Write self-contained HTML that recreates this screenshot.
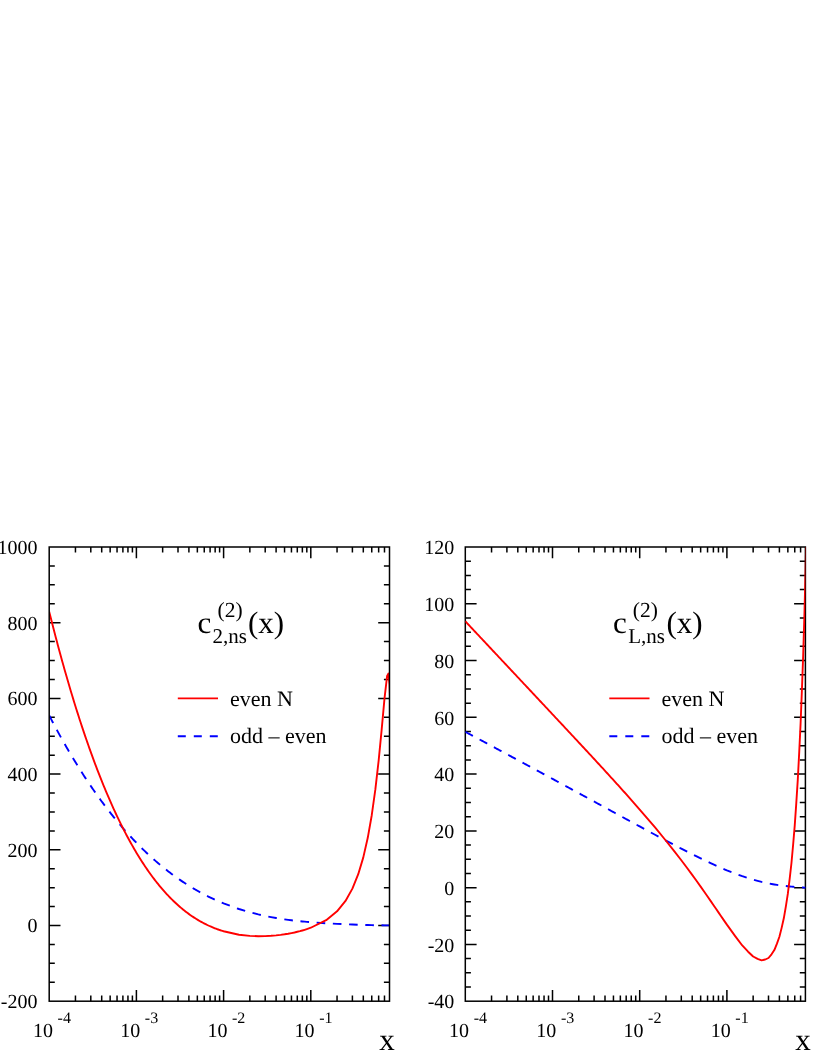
<!DOCTYPE html>
<html><head><meta charset="utf-8"><title>c2ns / cLns two-loop coefficient functions</title>
<style>html,body{margin:0;padding:0;background:#fff}body{width:817px;height:1058px;overflow:hidden;font-family:"Liberation Serif",serif}</style>
</head><body>
<svg width="817" height="1058" viewBox="0 0 817 1058" style="display:block;will-change:transform">
<rect width="817" height="1058" fill="#fff"/>
<path d="M75.45,1001.2v-5.6M75.45,547.0v5.6M90.80,1001.2v-5.6M90.80,547.0v5.6M101.70,1001.2v-5.6M101.70,547.0v5.6M110.15,1001.2v-5.6M110.15,547.0v5.6M117.05,1001.2v-5.6M117.05,547.0v5.6M122.89,1001.2v-5.6M122.89,547.0v5.6M127.95,1001.2v-5.6M127.95,547.0v5.6M132.41,1001.2v-5.6M132.41,547.0v5.6M136.40,1001.2v-11.3M136.40,547.0v11.3M162.65,1001.2v-5.6M162.65,547.0v5.6M178.00,1001.2v-5.6M178.00,547.0v5.6M188.90,1001.2v-5.6M188.90,547.0v5.6M197.35,1001.2v-5.6M197.35,547.0v5.6M204.25,1001.2v-5.6M204.25,547.0v5.6M210.09,1001.2v-5.6M210.09,547.0v5.6M215.15,1001.2v-5.6M215.15,547.0v5.6M219.61,1001.2v-5.6M219.61,547.0v5.6M223.60,1001.2v-11.3M223.60,547.0v11.3M249.85,1001.2v-5.6M249.85,547.0v5.6M265.20,1001.2v-5.6M265.20,547.0v5.6M276.10,1001.2v-5.6M276.10,547.0v5.6M284.55,1001.2v-5.6M284.55,547.0v5.6M291.45,1001.2v-5.6M291.45,547.0v5.6M297.29,1001.2v-5.6M297.29,547.0v5.6M302.35,1001.2v-5.6M302.35,547.0v5.6M306.81,1001.2v-5.6M306.81,547.0v5.6M310.80,1001.2v-11.3M310.80,547.0v11.3M337.05,1001.2v-5.6M337.05,547.0v5.6M352.40,1001.2v-5.6M352.40,547.0v5.6M363.30,1001.2v-5.6M363.30,547.0v5.6M371.75,1001.2v-5.6M371.75,547.0v5.6M378.65,1001.2v-5.6M378.65,547.0v5.6M384.49,1001.2v-5.6M384.49,547.0v5.6M49.2,982.28h5.6M389.5,982.28h-5.6M49.2,963.35h5.6M389.5,963.35h-5.6M49.2,944.43h5.6M389.5,944.43h-5.6M49.2,925.50h11.3M389.5,925.50h-11.3M49.2,906.58h5.6M389.5,906.58h-5.6M49.2,887.65h5.6M389.5,887.65h-5.6M49.2,868.73h5.6M389.5,868.73h-5.6M49.2,849.80h11.3M389.5,849.80h-11.3M49.2,830.88h5.6M389.5,830.88h-5.6M49.2,811.95h5.6M389.5,811.95h-5.6M49.2,793.02h5.6M389.5,793.02h-5.6M49.2,774.10h11.3M389.5,774.10h-11.3M49.2,755.17h5.6M389.5,755.17h-5.6M49.2,736.25h5.6M389.5,736.25h-5.6M49.2,717.33h5.6M389.5,717.33h-5.6M49.2,698.40h11.3M389.5,698.40h-11.3M49.2,679.48h5.6M389.5,679.48h-5.6M49.2,660.55h5.6M389.5,660.55h-5.6M49.2,641.62h5.6M389.5,641.62h-5.6M49.2,622.70h11.3M389.5,622.70h-11.3M49.2,603.77h5.6M389.5,603.77h-5.6M49.2,584.85h5.6M389.5,584.85h-5.6M49.2,565.92h5.6M389.5,565.92h-5.6" stroke="#000" stroke-width="1.5" fill="none"/>
<clipPath id="cp0"><rect x="49.2" y="547.0" width="340.30" height="454.20"/></clipPath>
<polyline clip-path="url(#cp0)" points="49.20,715.43 50.29,717.53 51.38,719.62 52.47,721.70 53.56,723.76 54.65,725.81 55.74,727.84 56.83,729.86 57.92,731.87 59.01,733.86 60.10,735.84 61.19,737.80 62.28,739.75 63.37,741.69 64.46,743.61 65.55,745.52 66.64,747.41 67.73,749.30 68.82,751.16 69.91,753.02 71.00,754.86 72.09,756.69 73.18,758.51 74.27,760.31 75.36,762.10 76.45,763.87 77.54,765.63 78.63,767.38 79.72,769.12 80.81,770.85 81.90,772.56 82.99,774.25 84.08,775.94 85.17,777.61 86.26,779.27 87.35,780.92 88.44,782.55 89.53,784.18 90.62,785.79 91.71,787.38 92.80,788.97 93.89,790.54 94.98,792.10 96.07,793.65 97.16,795.18 98.25,796.71 99.34,798.22 100.43,799.72 101.52,801.21 102.61,802.68 103.70,804.15 104.79,805.60 105.88,807.04 106.97,808.47 108.06,809.88 109.15,811.29 110.24,812.68 111.33,814.06 112.42,815.43 113.51,816.79 114.60,818.14 115.69,819.48 116.78,820.80 117.87,822.11 118.96,823.42 120.05,824.71 121.14,825.99 122.23,827.26 123.32,828.51 124.41,829.76 125.50,831.00 126.59,832.22 127.68,833.43 128.77,834.64 129.86,835.83 130.95,837.01 132.04,838.18 133.13,839.34 134.22,840.49 135.31,841.63 136.40,842.76 137.49,843.88 138.58,844.99 139.67,846.09 140.76,847.17 141.85,848.25 142.94,849.32 144.03,850.38 145.12,851.42 146.21,852.46 147.30,853.49 148.39,854.50 149.48,855.51 150.57,856.51 151.66,857.50 152.75,858.47 153.84,859.44 154.93,860.40 156.02,861.35 157.11,862.29 158.20,863.22 159.29,864.14 160.38,865.05 161.47,865.95 162.56,866.84 163.65,867.73 164.74,868.60 165.83,869.47 166.92,870.32 168.01,871.17 169.10,872.00 170.19,872.83 171.28,873.65 172.37,874.46 173.46,875.26 174.55,876.06 175.64,876.84 176.73,877.62 177.82,878.38 178.91,879.14 180.00,879.89 181.09,880.63 182.18,881.37 183.27,882.09 184.36,882.81 185.45,883.51 186.54,884.21 187.63,884.90 188.72,885.59 189.81,886.26 190.90,886.93 191.99,887.59 193.08,888.24 194.17,888.88 195.26,889.51 196.35,890.14 197.44,890.76 198.53,891.37 199.62,891.98 200.71,892.57 201.80,893.16 202.89,893.74 203.98,894.31 205.07,894.88 206.16,895.44 207.25,895.99 208.34,896.53 209.43,897.07 210.52,897.60 211.61,898.12 212.70,898.64 213.79,899.14 214.88,899.65 215.97,900.14 217.06,900.63 218.15,901.11 219.24,901.58 220.33,902.05 221.42,902.51 222.51,902.96 223.60,903.40 238.96,909.01 249.85,912.28 258.30,914.43 265.20,915.97 271.04,917.13 276.10,918.03 280.56,918.76 284.55,919.35 288.16,919.85 291.45,920.27 294.49,920.63 297.29,920.94 299.91,921.21 302.35,921.45 304.65,921.67 306.81,921.86 308.86,922.04 310.80,922.20 326.16,923.24 337.05,923.83 345.50,924.22 352.40,924.51 358.24,924.74 363.30,924.92 367.76,925.06 371.75,925.17 375.36,925.25 378.65,925.30 381.69,925.32 384.49,925.34 387.11,925.35 388.35,925.35 389.55,925.36 390.71,925.38" fill="none" stroke="#0000ff" stroke-width="1.9" stroke-dasharray="8.62 7.62" stroke-linejoin="round"/>
<polyline clip-path="url(#cp0)" points="49.20,611.64 50.29,615.99 51.38,620.31 52.47,624.59 53.56,628.83 54.65,633.03 55.74,637.20 56.83,641.33 57.92,645.42 59.01,649.47 60.10,653.49 61.19,657.47 62.28,661.42 63.37,665.33 64.46,669.20 65.55,673.03 66.64,676.83 67.73,680.60 68.82,684.33 69.91,688.02 71.00,691.68 72.09,695.30 73.18,698.89 74.27,702.44 75.36,705.96 76.45,709.44 77.54,712.89 78.63,716.31 79.72,719.69 80.81,723.04 81.90,726.35 82.99,729.63 84.08,732.88 85.17,736.09 86.26,739.27 87.35,742.42 88.44,745.54 89.53,748.62 90.62,751.67 91.71,754.69 92.80,757.67 93.89,760.63 94.98,763.55 96.07,766.44 97.16,769.30 98.25,772.13 99.34,774.92 100.43,777.69 101.52,780.42 102.61,783.13 103.70,785.80 104.79,788.45 105.88,791.06 106.97,793.64 108.06,796.20 109.15,798.72 110.24,801.21 111.33,803.68 112.42,806.11 113.51,808.52 114.60,810.90 115.69,813.25 116.78,815.57 117.87,817.86 118.96,820.12 120.05,822.36 121.14,824.57 122.23,826.75 123.32,828.90 124.41,831.03 125.50,833.12 126.59,835.19 127.68,837.24 128.77,839.26 129.86,841.25 130.95,843.21 132.04,845.15 133.13,847.06 134.22,848.95 135.31,850.81 136.40,852.64 137.49,854.45 138.58,856.23 139.67,857.99 140.76,859.73 141.85,861.44 142.94,863.12 144.03,864.78 145.12,866.42 146.21,868.03 147.30,869.62 148.39,871.18 149.48,872.72 150.57,874.24 151.66,875.73 152.75,877.20 153.84,878.65 154.93,880.07 156.02,881.47 157.11,882.85 158.20,884.21 159.29,885.55 160.38,886.86 161.47,888.15 162.56,889.42 163.65,890.67 164.74,891.90 165.83,893.10 166.92,894.29 168.01,895.45 169.10,896.60 170.19,897.72 171.28,898.83 172.37,899.91 173.46,900.97 174.55,902.02 175.64,903.04 176.73,904.04 177.82,905.03 178.91,906.00 180.00,906.94 181.09,907.87 182.18,908.78 183.27,909.67 184.36,910.55 185.45,911.40 186.54,912.24 187.63,913.06 188.72,913.86 189.81,914.65 190.90,915.42 191.99,916.17 193.08,916.90 194.17,917.62 195.26,918.32 196.35,919.00 197.44,919.67 198.53,920.32 199.62,920.96 200.71,921.58 201.80,922.18 202.89,922.77 203.98,923.35 205.07,923.91 206.16,924.45 207.25,924.98 208.34,925.50 209.43,926.00 210.52,926.49 211.61,926.96 212.70,927.42 213.79,927.86 214.88,928.29 215.97,928.71 217.06,929.12 218.15,929.51 219.24,929.89 220.33,930.25 221.42,930.61 222.51,930.95 223.60,931.28 238.96,934.70 249.85,935.90 258.30,936.22 265.20,936.12 271.04,935.81 276.10,935.37 280.56,934.85 284.55,934.29 288.16,933.70 291.45,933.08 294.49,932.45 297.29,931.80 299.91,931.15 302.35,930.48 304.65,929.80 306.81,929.12 308.86,928.43 310.80,927.73 326.16,920.16 337.05,911.34 345.50,900.93 352.40,888.65 358.24,874.23 363.30,857.38 367.76,837.80 371.75,815.21 375.36,789.44 378.65,760.56 381.69,729.39 384.49,698.60 387.11,675.92 388.35,673.58 389.55,684.36 390.71,719.48" fill="none" stroke="#ff0000" stroke-width="1.9" stroke-linejoin="round"/>
<rect x="49.2" y="547.0" width="340.30" height="454.20" fill="none" stroke="#000" stroke-width="1.5"/>
<g font-family="Liberation Serif, serif" fill="#000" text-rendering="geometricPrecision">
<text x="37.50" y="1008.15" font-size="20.0" text-anchor="end">-200</text>
<text x="37.50" y="932.45" font-size="20.0" text-anchor="end">0</text>
<text x="37.50" y="856.75" font-size="20.0" text-anchor="end">200</text>
<text x="37.50" y="781.05" font-size="20.0" text-anchor="end">400</text>
<text x="37.50" y="705.35" font-size="20.0" text-anchor="end">600</text>
<text x="37.50" y="629.65" font-size="20.0" text-anchor="end">800</text>
<text x="37.50" y="553.95" font-size="20.0" text-anchor="end">1000</text>
<text x="33.00" y="1036.7" font-size="20.0">10</text>
<text x="57.60" y="1022.8" font-size="16.0">-4</text>
<text x="120.20" y="1036.7" font-size="20.0">10</text>
<text x="144.80" y="1022.8" font-size="16.0">-3</text>
<text x="207.40" y="1036.7" font-size="20.0">10</text>
<text x="232.00" y="1022.8" font-size="16.0">-2</text>
<text x="294.60" y="1036.7" font-size="20.0">10</text>
<text x="319.20" y="1022.8" font-size="16.0">-1</text>
<text x="379.35" y="1050" font-size="31.0">x</text>
<text x="197.60" y="633.0" font-size="31.0">c</text>
<text x="217.60" y="617.1" font-size="21.5">(2)</text>
<text x="212.60" y="643.0" font-size="21.0">2,ns</text>
<text x="248.00" y="633.0" font-size="31.0">(x)</text>
<text x="229.90" y="705.9" font-size="22.0">even N</text>
<text x="229.90" y="743.3" font-size="22.0">odd – even</text>
</g>
<path d="M177.80,698.4h40.2" stroke="#ff0000" stroke-width="1.9"/>
<path d="M177.80,736.3h40.2" stroke="#0000ff" stroke-width="1.9" stroke-dasharray="8 8"/>
<path d="M491.55,1001.2v-5.6M491.55,547.0v5.6M506.90,1001.2v-5.6M506.90,547.0v5.6M517.80,1001.2v-5.6M517.80,547.0v5.6M526.25,1001.2v-5.6M526.25,547.0v5.6M533.15,1001.2v-5.6M533.15,547.0v5.6M538.99,1001.2v-5.6M538.99,547.0v5.6M544.05,1001.2v-5.6M544.05,547.0v5.6M548.51,1001.2v-5.6M548.51,547.0v5.6M552.50,1001.2v-11.3M552.50,547.0v11.3M578.75,1001.2v-5.6M578.75,547.0v5.6M594.10,1001.2v-5.6M594.10,547.0v5.6M605.00,1001.2v-5.6M605.00,547.0v5.6M613.45,1001.2v-5.6M613.45,547.0v5.6M620.35,1001.2v-5.6M620.35,547.0v5.6M626.19,1001.2v-5.6M626.19,547.0v5.6M631.25,1001.2v-5.6M631.25,547.0v5.6M635.71,1001.2v-5.6M635.71,547.0v5.6M639.70,1001.2v-11.3M639.70,547.0v11.3M665.95,1001.2v-5.6M665.95,547.0v5.6M681.30,1001.2v-5.6M681.30,547.0v5.6M692.20,1001.2v-5.6M692.20,547.0v5.6M700.65,1001.2v-5.6M700.65,547.0v5.6M707.55,1001.2v-5.6M707.55,547.0v5.6M713.39,1001.2v-5.6M713.39,547.0v5.6M718.45,1001.2v-5.6M718.45,547.0v5.6M722.91,1001.2v-5.6M722.91,547.0v5.6M726.90,1001.2v-11.3M726.90,547.0v11.3M753.15,1001.2v-5.6M753.15,547.0v5.6M768.50,1001.2v-5.6M768.50,547.0v5.6M779.40,1001.2v-5.6M779.40,547.0v5.6M787.85,1001.2v-5.6M787.85,547.0v5.6M794.75,1001.2v-5.6M794.75,547.0v5.6M800.59,1001.2v-5.6M800.59,547.0v5.6M465.3,987.01h5.6M805.4,987.01h-5.6M465.3,972.81h5.6M805.4,972.81h-5.6M465.3,958.62h5.6M805.4,958.62h-5.6M465.3,944.43h11.3M805.4,944.43h-11.3M465.3,930.23h5.6M805.4,930.23h-5.6M465.3,916.04h5.6M805.4,916.04h-5.6M465.3,901.84h5.6M805.4,901.84h-5.6M465.3,887.65h11.3M805.4,887.65h-11.3M465.3,873.46h5.6M805.4,873.46h-5.6M465.3,859.26h5.6M805.4,859.26h-5.6M465.3,845.07h5.6M805.4,845.07h-5.6M465.3,830.88h11.3M805.4,830.88h-11.3M465.3,816.68h5.6M805.4,816.68h-5.6M465.3,802.49h5.6M805.4,802.49h-5.6M465.3,788.29h5.6M805.4,788.29h-5.6M465.3,774.10h11.3M805.4,774.10h-11.3M465.3,759.91h5.6M805.4,759.91h-5.6M465.3,745.71h5.6M805.4,745.71h-5.6M465.3,731.52h5.6M805.4,731.52h-5.6M465.3,717.33h11.3M805.4,717.33h-11.3M465.3,703.13h5.6M805.4,703.13h-5.6M465.3,688.94h5.6M805.4,688.94h-5.6M465.3,674.74h5.6M805.4,674.74h-5.6M465.3,660.55h11.3M805.4,660.55h-11.3M465.3,646.36h5.6M805.4,646.36h-5.6M465.3,632.16h5.6M805.4,632.16h-5.6M465.3,617.97h5.6M805.4,617.97h-5.6M465.3,603.77h11.3M805.4,603.77h-11.3M465.3,589.58h5.6M805.4,589.58h-5.6M465.3,575.39h5.6M805.4,575.39h-5.6M465.3,561.19h5.6M805.4,561.19h-5.6" stroke="#000" stroke-width="1.5" fill="none"/>
<clipPath id="cp1"><rect x="465.3" y="547.0" width="340.10" height="454.20"/></clipPath>
<rect x="465.3" y="547.0" width="340.10" height="454.20" fill="none" stroke="#000" stroke-width="1.5"/>
<polyline clip-path="url(#cp1)" points="465.30,731.83 466.39,732.41 467.48,733.00 468.57,733.58 469.66,734.17 470.75,734.75 471.84,735.34 472.93,735.92 474.02,736.51 475.11,737.09 476.20,737.68 477.29,738.26 478.38,738.85 479.47,739.43 480.56,740.02 481.65,740.60 482.74,741.19 483.83,741.77 484.92,742.36 486.01,742.95 487.10,743.53 488.19,744.12 489.28,744.70 490.37,745.29 491.46,745.88 492.55,746.46 493.64,747.05 494.73,747.64 495.82,748.22 496.91,748.81 498.00,749.40 499.09,749.98 500.18,750.57 501.27,751.16 502.36,751.75 503.45,752.33 504.54,752.92 505.63,753.51 506.72,754.10 507.81,754.68 508.90,755.27 509.99,755.86 511.08,756.45 512.17,757.04 513.26,757.62 514.35,758.21 515.44,758.80 516.53,759.39 517.62,759.98 518.71,760.57 519.80,761.16 520.89,761.74 521.98,762.33 523.07,762.92 524.16,763.51 525.25,764.10 526.34,764.69 527.43,765.28 528.52,765.87 529.61,766.46 530.70,767.05 531.79,767.64 532.88,768.23 533.97,768.82 535.06,769.41 536.15,770.00 537.24,770.59 538.33,771.18 539.42,771.77 540.51,772.36 541.60,772.95 542.69,773.55 543.78,774.14 544.87,774.73 545.96,775.32 547.05,775.91 548.14,776.50 549.23,777.09 550.32,777.69 551.41,778.28 552.50,778.87 553.59,779.46 554.68,780.05 555.77,780.65 556.86,781.24 557.95,781.83 559.04,782.42 560.13,783.02 561.22,783.61 562.31,784.20 563.40,784.80 564.49,785.39 565.58,785.98 566.67,786.58 567.76,787.17 568.85,787.76 569.94,788.36 571.03,788.95 572.12,789.54 573.21,790.14 574.30,790.73 575.39,791.33 576.48,791.92 577.57,792.52 578.66,793.11 579.75,793.70 580.84,794.30 581.93,794.89 583.02,795.49 584.11,796.08 585.20,796.68 586.29,797.27 587.38,797.87 588.47,798.46 589.56,799.06 590.65,799.65 591.74,800.25 592.83,800.85 593.92,801.44 595.01,802.04 596.10,802.63 597.19,803.23 598.28,803.82 599.37,804.42 600.46,805.02 601.55,805.61 602.64,806.21 603.73,806.80 604.82,807.40 605.91,808.00 607.00,808.59 608.09,809.19 609.18,809.78 610.27,810.38 611.36,810.98 612.45,811.57 613.54,812.17 614.63,812.77 615.72,813.36 616.81,813.96 617.90,814.55 618.99,815.15 620.08,815.74 621.17,816.34 622.26,816.94 623.35,817.53 624.44,818.13 625.53,818.72 626.62,819.32 627.71,819.91 628.80,820.51 629.89,821.10 630.98,821.70 632.07,822.29 633.16,822.89 634.25,823.48 635.34,824.07 636.43,824.67 637.52,825.26 638.61,825.85 639.70,826.45 655.06,834.76 665.95,840.59 674.40,845.06 681.30,848.66 687.14,851.66 692.20,854.22 696.66,856.45 700.65,858.41 704.26,860.15 707.55,861.72 710.59,863.14 713.39,864.43 716.01,865.62 718.45,866.70 720.75,867.71 722.91,868.64 724.96,869.51 726.90,870.32 735.35,873.61 742.26,876.19 748.09,878.09 753.15,879.67 757.61,880.88 761.60,881.92 765.21,882.73 768.50,883.44 771.54,884.00 774.34,884.50 776.96,884.91 779.40,885.26 781.70,885.56 783.86,885.83 785.91,886.05 787.85,886.25 789.70,886.43 791.46,886.59 793.14,886.73 794.75,886.86 796.30,886.98 797.79,887.10 799.22,887.20 800.59,887.31 801.92,887.40 803.21,887.50 804.45,887.58 805.65,887.65 806.81,887.71" fill="none" stroke="#0000ff" stroke-width="1.9" stroke-dasharray="8.62 7.62" stroke-linejoin="round"/>
<polyline clip-path="url(#cp1)" points="465.30,621.27 466.39,622.43 467.48,623.60 468.57,624.76 469.66,625.92 470.75,627.08 471.84,628.24 472.93,629.40 474.02,630.56 475.11,631.73 476.20,632.89 477.29,634.05 478.38,635.21 479.47,636.37 480.56,637.53 481.65,638.70 482.74,639.86 483.83,641.02 484.92,642.18 486.01,643.34 487.10,644.50 488.19,645.67 489.28,646.83 490.37,647.99 491.46,649.15 492.55,650.31 493.64,651.48 494.73,652.64 495.82,653.80 496.91,654.96 498.00,656.13 499.09,657.29 500.18,658.45 501.27,659.61 502.36,660.78 503.45,661.94 504.54,663.10 505.63,664.26 506.72,665.42 507.81,666.59 508.90,667.75 509.99,668.91 511.08,670.07 512.17,671.24 513.26,672.40 514.35,673.56 515.44,674.72 516.53,675.89 517.62,677.05 518.71,678.21 519.80,679.38 520.89,680.54 521.98,681.70 523.07,682.86 524.16,684.03 525.25,685.19 526.34,686.35 527.43,687.52 528.52,688.68 529.61,689.84 530.70,691.01 531.79,692.17 532.88,693.33 533.97,694.50 535.06,695.66 536.15,696.82 537.24,697.99 538.33,699.15 539.42,700.31 540.51,701.48 541.60,702.64 542.69,703.80 543.78,704.97 544.87,706.13 545.96,707.30 547.05,708.46 548.14,709.62 549.23,710.79 550.32,711.95 551.41,713.12 552.50,714.28 553.59,715.45 554.68,716.61 555.77,717.78 556.86,718.94 557.95,720.11 559.04,721.28 560.13,722.44 561.22,723.61 562.31,724.77 563.40,725.94 564.49,727.11 565.58,728.28 566.67,729.44 567.76,730.61 568.85,731.78 569.94,732.95 571.03,734.12 572.12,735.29 573.21,736.45 574.30,737.62 575.39,738.79 576.48,739.97 577.57,741.14 578.66,742.31 579.75,743.48 580.84,744.65 581.93,745.82 583.02,747.00 584.11,748.17 585.20,749.35 586.29,750.52 587.38,751.70 588.47,752.87 589.56,754.05 590.65,755.23 591.74,756.41 592.83,757.58 593.92,758.76 595.01,759.94 596.10,761.13 597.19,762.31 598.28,763.49 599.37,764.67 600.46,765.86 601.55,767.05 602.64,768.23 603.73,769.42 604.82,770.61 605.91,771.80 607.00,772.99 608.09,774.18 609.18,775.38 610.27,776.57 611.36,777.77 612.45,778.97 613.54,780.17 614.63,781.37 615.72,782.57 616.81,783.77 617.90,784.98 618.99,786.18 620.08,787.39 621.17,788.60 622.26,789.82 623.35,791.03 624.44,792.25 625.53,793.47 626.62,794.69 627.71,795.91 628.80,797.13 629.89,798.36 630.98,799.59 632.07,800.82 633.16,802.06 634.25,803.29 635.34,804.53 636.43,805.77 637.52,807.02 638.61,808.27 639.70,809.52 655.06,827.49 665.95,840.74 674.40,851.35 681.30,860.28 687.14,868.02 692.20,874.87 696.66,881.03 700.65,886.62 704.26,891.75 707.55,896.47 710.59,900.86 713.39,904.94 716.01,908.76 718.45,912.34 720.75,915.70 722.91,918.86 724.96,921.84 726.90,924.65 735.35,936.32 742.26,945.46 748.09,951.69 753.15,956.51 757.61,958.87 761.60,960.31 765.21,959.49 768.50,957.99 771.54,954.30 774.34,950.08 776.96,943.66 779.40,936.78 781.70,927.62 783.86,918.05 785.91,906.05 787.85,893.63 789.70,878.54 791.46,863.01 793.14,844.47 794.75,825.41 796.30,802.84 797.79,779.59 799.22,752.08 800.59,723.66 801.92,689.76 803.21,654.55 804.45,613.54 805.65,566.97 806.81,513.41" fill="none" stroke="#ff0000" stroke-width="1.9" stroke-linejoin="round"/>
<g font-family="Liberation Serif, serif" fill="#000" text-rendering="geometricPrecision">
<text x="454.30" y="1008.40" font-size="20.0" text-anchor="end">-40</text>
<text x="454.30" y="951.63" font-size="20.0" text-anchor="end">-20</text>
<text x="454.30" y="894.85" font-size="20.0" text-anchor="end">0</text>
<text x="454.30" y="838.08" font-size="20.0" text-anchor="end">20</text>
<text x="454.30" y="781.30" font-size="20.0" text-anchor="end">40</text>
<text x="454.30" y="724.53" font-size="20.0" text-anchor="end">60</text>
<text x="454.30" y="667.75" font-size="20.0" text-anchor="end">80</text>
<text x="454.30" y="610.98" font-size="20.0" text-anchor="end">100</text>
<text x="454.30" y="554.20" font-size="20.0" text-anchor="end">120</text>
<text x="449.10" y="1036.7" font-size="20.0">10</text>
<text x="473.70" y="1022.8" font-size="16.0">-4</text>
<text x="536.30" y="1036.7" font-size="20.0">10</text>
<text x="560.90" y="1022.8" font-size="16.0">-3</text>
<text x="623.50" y="1036.7" font-size="20.0">10</text>
<text x="648.10" y="1022.8" font-size="16.0">-2</text>
<text x="710.70" y="1036.7" font-size="20.0">10</text>
<text x="735.30" y="1022.8" font-size="16.0">-1</text>
<text x="795.25" y="1050" font-size="31.0">x</text>
<text x="613.10" y="633.0" font-size="31.0">c</text>
<text x="632.80" y="617.1" font-size="21.5">(2)</text>
<text x="628.30" y="643.0" font-size="21.0">L,ns</text>
<text x="666.55" y="633.0" font-size="31.0">(x)</text>
<text x="661.40" y="705.9" font-size="22.0">even N</text>
<text x="661.40" y="743.3" font-size="22.0">odd – even</text>
</g>
<path d="M609.30,698.4h40.2" stroke="#ff0000" stroke-width="1.9"/>
<path d="M609.30,736.3h40.2" stroke="#0000ff" stroke-width="1.9" stroke-dasharray="8 8"/>
</svg>
</body></html>
